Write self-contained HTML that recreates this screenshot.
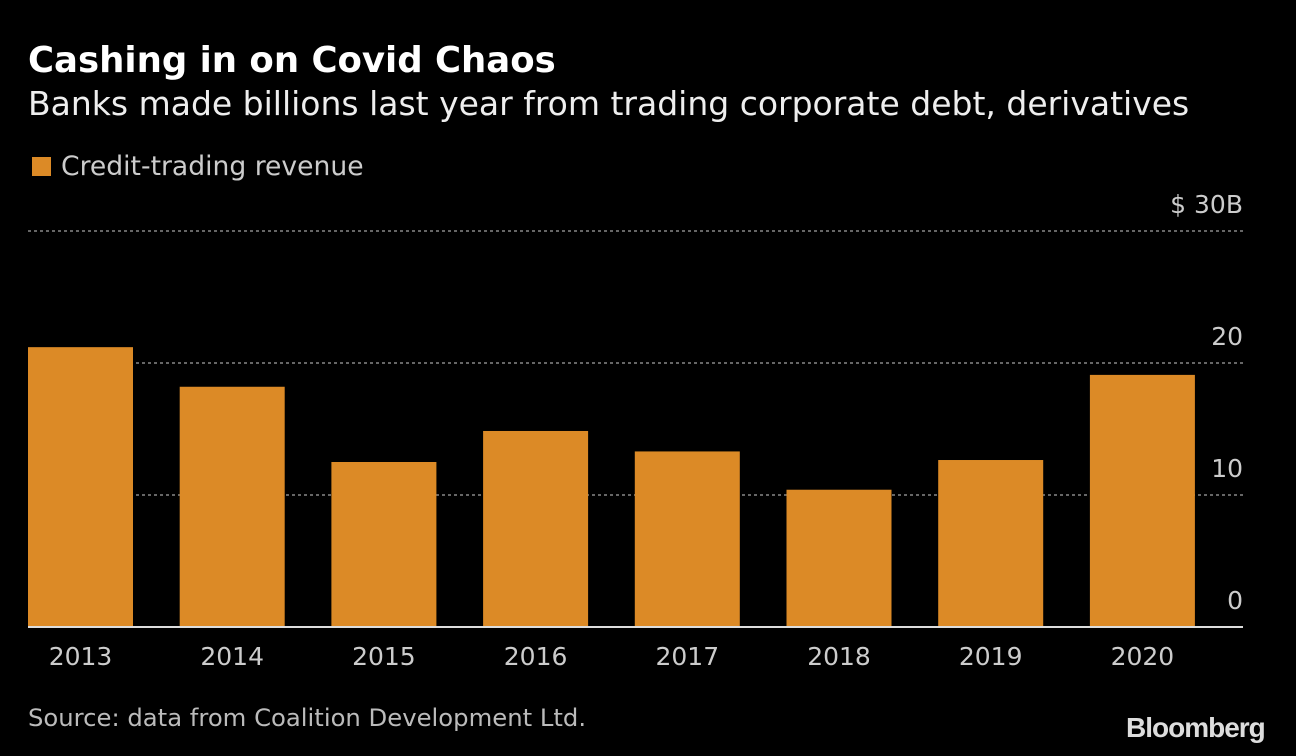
<!DOCTYPE html>
<html><head><meta charset="utf-8"><style>
body{margin:0;background:#000;width:1296px;height:756px;overflow:hidden;font-family:"DejaVu Sans",sans-serif;color:#fff}
.t{position:absolute;white-space:nowrap}
</style></head><body>
<div class="t" style="left:28px;top:40px;font-size:35.5px;font-weight:bold;">Cashing in on Covid Chaos</div>
<div class="t" style="left:28px;top:84px;font-size:33px;color:#eee">Banks made billions last year from trading corporate debt, derivatives</div>
<div class="t" style="left:32px;top:151px;font-size:26.6px;color:#ccc"><span style="display:inline-block;width:19px;height:19px;background:#dc8a26;margin-right:10px;vertical-align:-1px"></span>Credit-trading revenue</div>
<div class="t" style="left:28px;top:703px;font-size:24.3px;color:#bbb">Source: data from Coalition Development Ltd.</div>
<div class="t" style="left:1126px;top:712px;font-size:28px;font-weight:bold;color:#ddd;letter-spacing:-1px;font-family:'Liberation Sans',sans-serif">Bloomberg</div>
<svg id="c" width="1296" height="756" style="position:absolute;left:0;top:0"></svg>
<script>
const categories=["2013","2014","2015","2016","2017","2018","2019","2020"];
const values=[21.2,18.2,12.5,14.85,13.3,10.4,12.65,19.1];
const ticks=[0,10,20,30];
const tickLabels=["0","10","20","$ 30B"];
const svg=document.getElementById('c');const NS="http://www.w3.org/2000/svg";
const y=v=>627-v*13.2;
const x=i=>28+i*151.7;
function mk(t,a){const e=document.createElementNS(NS,t);for(const k in a)e.setAttribute(k,a[k]);svg.appendChild(e);return e;}
ticks.forEach((t,i)=>{
 if(t>0){const l=mk('line',{x1:28,x2:1243,y1:y(t),y2:y(t),stroke:'#888','stroke-width':1.5,'stroke-dasharray':'3,3'});
 
 }
 const tx=mk('text',{x:1243,y:y(t)-18,'text-anchor':'end','font-size':25,fill:'#ccc','font-family':'DejaVu Sans'});
 tx.textContent=tickLabels[i];
 
 
});
values.forEach((v,i)=>{
 const r=mk('rect',{x:x(i),y:y(v),width:105,height:y(0)-y(v),fill:'#dc8a26'});
 
 
 const tx=mk('text',{x:x(i)+52.5,y:665,'text-anchor':'middle','font-size':25,fill:'#ccc','font-family':'DejaVu Sans'});
 tx.textContent=categories[i];
 
 
});
const b=mk('line',{x1:28,x2:1243,y1:627,y2:627,stroke:'#ddd','stroke-width':2});


</script>
</body></html>
